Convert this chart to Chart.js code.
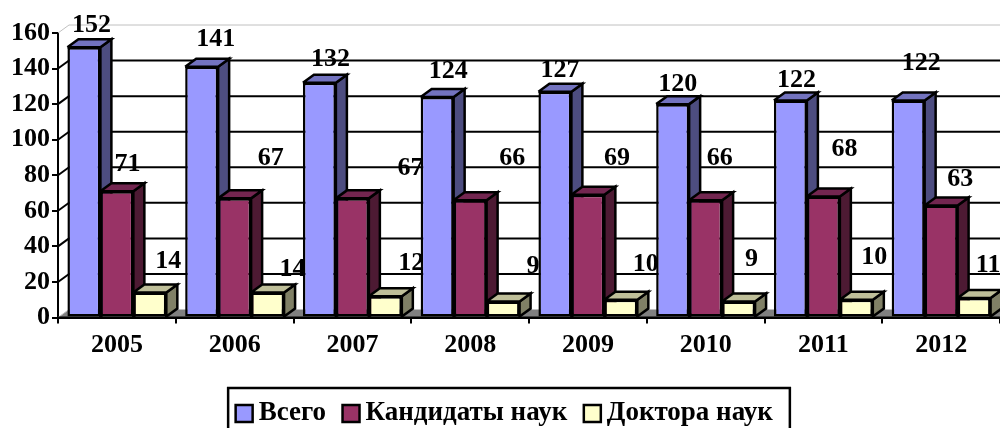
<!DOCTYPE html>
<html>
<head>
<meta charset="utf-8">
<script src="https://cdn.jsdelivr.net/npm/chart.js@4/dist/chart.umd.min.js"></script>
<style>
  html, body { margin: 0; padding: 0; background: #fff; overflow: hidden; }
  #wrap { width: 1000px; height: 428px; }
</style>
</head>
<body>
<div id="wrap"><canvas id="chart" width="1000" height="428"></canvas></div>
<script>
const years = ["2005", "2006", "2007", "2008", "2009", "2010", "2011", "2012"];
const vsego = [152, 141, 132, 124, 127, 120, 122, 122];
const kandidaty = [71, 67, 67, 66, 69, 66, 68, 63];
const doktora = [14, 14, 12, 9, 10, 9, 10, 11];
const yTicks = [0, 20, 40, 60, 80, 100, 120, 140, 160];

// The labels were dragged by hand in the original, so each one has its own nudge from the bar top.
const labelNudgeX = [
  [7.5, 14, 11, 11, 5, 5, 6, 13],
  [10.5, 36, 58, 42, 29, 14, 21, 19],
  [18.5, 25, 26, 30, 25, 13, 18, 14],
];
const labelNudgeY = [
  [-22, -28, -24, -25.5, -21, -20, -20, -37],
  [-27, -40, -30, -42, -37, -42, -47, -26],
  [-31, -23, -33, -35, -35, -42, -42, -33],
];

const DEPTH_X = 11, DEPTH_Y = 8;
const LEGEND_SHIFT = 3;
const FONT = "'Liberation Serif', serif";
const sideColors = ["#4D4D80", "#4D1A33", "#808066"];
const topColors = ["#7373BF", "#732650", "#BFBF99"];

function poly(ctx, pts, fill, stroke, lw) {
  ctx.beginPath();
  pts.forEach((p, i) => i ? ctx.lineTo(p[0], p[1]) : ctx.moveTo(p[0], p[1]));
  if (fill) { ctx.closePath(); ctx.fillStyle = fill; ctx.fill(); }
  if (stroke) { ctx.strokeStyle = stroke; ctx.lineWidth = lw; ctx.stroke(); }
}

// Back wall, floor and the bars' depth faces go under the front faces chart.js draws.
const depthPlugin = {
  id: "depth",
  afterLayout(chart) {
    chart.legend.left += LEGEND_SHIFT;
    chart.legend.right += LEGEND_SHIFT;
  },
  beforeDatasetsDraw(chart) {
    const { ctx, chartArea: a, scales: { y } } = chart;
    ctx.save();
    const floorY = y.getPixelForValue(0);
    poly(ctx, [[a.left, floorY], [a.left + DEPTH_X, floorY - DEPTH_Y], [a.right + DEPTH_X, floorY - DEPTH_Y], [a.right, floorY]], "#808080");
    yTicks.forEach(v => {
      const py = y.getPixelForValue(v);
      const light = v === 0 || v === 160;
      poly(ctx, [[a.left, py], [a.left + DEPTH_X, py - DEPTH_Y]], null, light ? "#c0c0c0" : "#000", light ? 1 : 2);
      if (v !== 0) poly(ctx, [[a.left + DEPTH_X, py - DEPTH_Y], [a.right + DEPTH_X, py - DEPTH_Y]], null, light ? "#c0c0c0" : "#000", light ? 1 : 2);
    });
    poly(ctx, [[a.left, floorY], [a.right, floorY]], null, "#000", 2);

    chart.data.datasets.forEach((ds, d) => {
      chart.getDatasetMeta(d).data.forEach(bar => {
        const l = bar.x - bar.width / 2, r = bar.x + bar.width / 2;
        poly(ctx, [[r, bar.y], [r + DEPTH_X, bar.y - DEPTH_Y], [r + DEPTH_X, bar.base - DEPTH_Y], [r, bar.base]], sideColors[d]);
        poly(ctx, [[r, bar.y], [r + DEPTH_X, bar.y - DEPTH_Y], [r + DEPTH_X, bar.base - DEPTH_Y], [r, bar.base], [r, bar.y]], null, "#000", 2.5);
        poly(ctx, [[l, bar.y], [l + DEPTH_X, bar.y - DEPTH_Y], [r + DEPTH_X, bar.y - DEPTH_Y], [r, bar.y]], topColors[d]);
        poly(ctx, [[l, bar.y], [l + DEPTH_X, bar.y - DEPTH_Y], [r + DEPTH_X, bar.y - DEPTH_Y], [r, bar.y], [l, bar.y]], null, "#000", 2.5);
      });
    });

    // labels sit below the front faces, the next group's bars cut some of them off
    ctx.font = "bold 26px " + FONT;
    ctx.fillStyle = "#000";
    ctx.textAlign = "center";
    ctx.textBaseline = "middle";
    chart.data.datasets.forEach((ds, d) => {
      chart.getDatasetMeta(d).data.forEach((bar, i) => {
        ctx.fillText(String(ds.data[i]), bar.x + labelNudgeX[d][i], bar.y + labelNudgeY[d][i]);
      });
    });
    ctx.restore();
  },
  afterDraw(chart) {
    const { ctx, legend } = chart;
    const hits = legend.legendHitBoxes;
    const last = hits[hits.length - 1];
    ctx.save();
    const left = hits[0].left + LEGEND_SHIFT - 18, right = last.left + LEGEND_SHIFT + last.width + 14, top = hits[0].top - 12;
    poly(ctx, [[left, 440], [left, top], [right, top], [right, 440]], null, "#000", 2.5);
    ctx.restore();
  },
};

new Chart(document.getElementById("chart"), {
  type: "bar",
  data: {
    labels: years,
    datasets: [
      { label: "Всего", data: vsego, backgroundColor: "#9999FF" },
      { label: "Кандидаты наук", data: kandidaty, backgroundColor: "#993366" },
      { label: "Доктора наук", data: doktora, backgroundColor: "#FFFFCC" },
    ],
  },
  options: {
    responsive: false,
    animation: false,
    layout: { padding: { top: 33, left: 10, right: 0, bottom: -9 } },
    datasets: { bar: { categoryPercentage: 0.84, barPercentage: 1, borderColor: "#000", borderWidth: 2.5, borderSkipped: false } },
    plugins: {
      tooltip: { enabled: false },
      legend: {
        position: "bottom",
        labels: {
          usePointStyle: true,
          pointStyle: "rect",
          boxWidth: 2,
          boxHeight: 17,
          padding: 24,
          color: "#000",
          font: { family: FONT, size: 27, weight: "bold" },
        },
      },
    },
    scales: {
      x: {
        afterFit(s) { s.height = 58.5; },
        grid: { offset: true, drawOnChartArea: false, color: "#000", lineWidth: 2, tickLength: 6 },
        border: { color: "#000", width: 2 },
        ticks: { color: "#000", padding: 6, maxRotation: 0, font: { family: FONT, size: 26, weight: "bold" } },
      },
      y: {
        min: 0,
        max: 160,
        afterFit(s) { s.width = 48; },
        afterBuildTicks(s) { s.ticks = yTicks.map(v => ({ value: v })); },
        grid: { drawOnChartArea: false, color: "#000", lineWidth: 2, tickLength: 6 },
        border: { color: "#000", width: 2 },
        ticks: { color: "#000", padding: 2, font: { family: FONT, size: 26, weight: "bold" } },
      },
    },
  },
  plugins: [depthPlugin],
});
</script>
</body>
</html>
